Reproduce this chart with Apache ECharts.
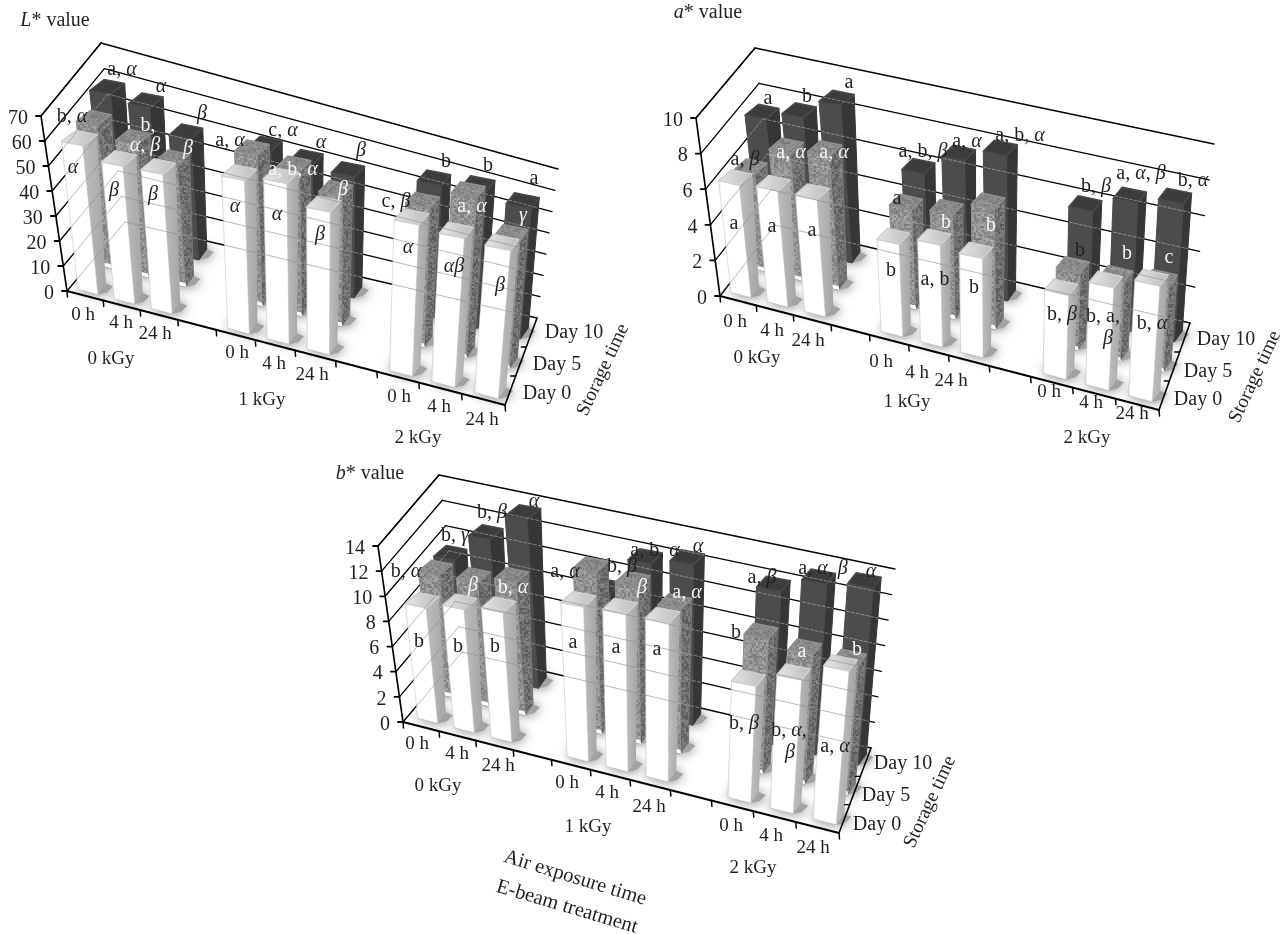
<!DOCTYPE html>
<html><head><meta charset="utf-8">
<style>html,body{margin:0;padding:0;background:#fff}#c{width:1285px;height:934px}</style>
<script src="https://cdn.jsdelivr.net/npm/echarts@6/dist/echarts.min.js"></script>
</head><body><div id="c"></div>
<script>
// ---------- data ----------
const slots = [0,1,2,4,5,6,8,9,10];
const exposureLabels = ['0 h','4 h','24 h','0 h','4 h','24 h','0 h','4 h','24 h'];
const doseLabels = ['0 kGy','1 kGy','2 kGy'];
const dayLabels = ['Day 0','Day 5','Day 10'];
const lTicks = [0,10,20,30,40,50,60,70];
const aTicks = [0,2,4,6,8,10];
const bTicks = [0,2,4,6,8,10,12,14];
const lDay0  = [59,54,54,58,60,52.6,54.5,53,52];
const lDay5  = [56.5,52,47,57,54,48,50,57,45];
const lDay10 = [58.5,56,46.7,48,46,44.5,47.6,48.6,45.7];
const aDay0  = [6.26,6.4,6.4,4.95,5.4,5.2,4.3,5.2,5.8];
const aDay5  = [5.4,7.0,7.3,5.3,5.5,6.3,3.95,4.0,4.3];
const aDay10 = [7.0,7.5,8.6,5.75,6.9,7.6,5.6,6.5,6.9];
const bDay0  = [9.1,9.6,10,11.65,11.75,11.7,8.4,9.5,10.8];
const bDay5  = [9.6,9.6,10.2,12.2,11.7,10.6,9.7,9.2,9.1];
const bDay10 = [8.7,10.9,13,8.5,11.3,11.8,11,12.1,12.4];

// ---------- layout ----------
const FONT = '"Liberation Serif", serif';
const INK = '#231f20';
const charts = [
 {name:'L*', ticks:lTicks, max:70, rows:[lDay0,lDay5,lDay10],
  A:[67,291],At:[41,116],D:[125,222],Dt:[101,43],B:[505,405],C:[537,318],Ct:[558,169],
  H0:175,grow:.143,lean:[-.115,.087],off:[2,-4],
  title:['L','* value',55,21],
  cats:[[83,315],[121,323],[155,334],[237,353],[274,364],[312,375],[399,397],[439,407],[482,420]],
  doses:[[111,359],[262,400],[418,438]],
  days:[[547,394],[557,365],[574,333]], storage:[603,370],
  notes:[['a, α',122,70,0],['b, α',72,117,0],['α',161,87,0],['b,',148,126,1],['α, β',145,146,1],['β',202,114,0],['β',188,149,1],
   ['α',73,168,0],['β',114,191,0],['β',153,195,0],['a, α',230,141,0],['c, α',283,131,0],['α',321,143,0],['a, b, α',293,170,1],
   ['α',235,207,0],['α',277,215,0],['β',320,235,0],['β',361,151,0],['β',343,190,1],['c, β',396,202,0],['b',446,162,0],['b',488,166,0],
   ['a',534,179,0],['a, α',472,207,1],['γ',523,216,1],['α',408,248,0],['αβ',454,267,0],['β',500,286,0]]},
 {name:'a*', ticks:aTicks, max:10, rows:[aDay0,aDay5,aDay10],
  A:[720,296],At:[696,118],D:[775,225],Dt:[755,48],B:[1159,410],C:[1190,323],Ct:[1214,144],
  H0:178,grow:.124,lean:[-.115,.07],off:[2,-6],
  title:['a','* value',708,13],
  cats:[[735,322],[772,331],[808,341],[881,362],[917,373],[951,381],[1049,392],[1091,403],[1132,414]],
  doses:[[757,358],[907,402],[1087,438]],
  days:[[1198,400],[1208,372],[1226,340]], storage:[1255,377],
  notes:[['a',768,99,0],['b',807,97,0],['a',849,83,0],['a, β',745,160,0],['a, α',791,153,1],['a, α',834,153,1],['a',734,224,0],['a',772,227,0],['a',812,231,0],
   ['a, b, β',923,152,0],['a, α',967,142,0],['a, b, α',1020,136,0],['a',897,199,0],['b',946,223,1],['b',991,226,1],['b',891,271,0],['a, b',935,280,0],['b',974,288,0],
   ['b, β',1096,187,0],['a, α, β',1141,174,0],['b, α',1193,181,0],['b',1080,251,0],['b',1127,254,1],['c',1169,258,1],['b, β',1062,315,0],['b, a,',1103,317,0],['β',1108,339,0],['b, α',1152,324,0]]},
 {name:'b*', ticks:bTicks, max:14, rows:[bDay0,bDay5,bDay10],
  A:[403,722],At:[378,546],D:[462,652],Dt:[439,475],B:[839,833],C:[871,748],Ct:[895,569],
  H0:176,grow:.136,lean:[-.115,.087],off:[6,-6],
  title:['b','* value',370,474],
  cats:[[417,744],[457,754],[498,766],[567,783],[607,793],[649,807],[731,826],[771,836],[813,848]],
  doses:[[438,786],[588,827],[753,868]],
  days:[[877,825],[886,796],[903,764]], storage:[930,802],
  notes:[['b, α',406,572,0],['b, γ',455,536,0],['b, β',492,513,0],['α',534,502,0],['β',473,586,1],['b, α',513,588,1],['b',419,642,0],['b',458,647,0],['b',495,647,0],
   ['a, α',565,572,0],['b, β',622,567,0],['a, b, α',655,551,0],['α',698,547,0],['β',642,588,1],['a, α',687,593,1],['a',573,643,0],['a',616,648,0],['a',657,650,0],
   ['a, β',762,578,0],['a, α, β',823,569,0],['α',871,572,0],['b',736,633,0],['a',802,652,1],['b',857,650,1],['b, β',744,724,0],['b, α,',789,731,0],['β',790,753,0],['a, α',835,747,0]]}
];
const axisCaptions = [['Air exposure time',575,878,-17],['E-beam treatment',567,907,-16.5]];
const DEPTH = [8,-11];
const DEPTH_LEAN = .045;

// ---------- textures ----------
function noise(lo,hi){
  const c=document.createElement('canvas');c.width=c.height=96;
  const g=c.getContext('2d');let s=0xACE1;
  for(let y=0;y<96;y+=2)for(let x=0;x<96;x+=2){
    for(let k=0;k<7;k++){const b=((s>>0)^(s>>2)^(s>>3)^(s>>5))&1;s=(s>>1)|(b<<15);}
    const v=Math.round(lo+(hi-lo)*(s&255)/255);
    g.fillStyle='rgb('+v+','+v+','+v+')';g.fillRect(x,y,2,2);
  }
  return {image:c,repeat:'repeat'};
}
const texFront=noise(122,168), texSide=noise(88,132), texTop=noise(122,150);
const grad=(a,b,c)=>({type:'linear',x:0,y:0,x2:1,y2:0,colorStops:c?[{offset:0,color:a},{offset:.1,color:b},{offset:1,color:c}]:[{offset:0,color:a},{offset:1,color:b}]});
const rowStyle=[
 {front:grad('#e2e2e2','#ffffff','#ffffff'),side:grad('#bdbdbd','#a6a6a6'),top:grad('#e6e6e6','#bcbcbc'),stroke:'rgba(195,195,195,.7)',topStroke:'#d0d0d0'},
 {front:texFront,side:texSide,top:texTop,stroke:'#8f8f8f',sideStroke:'#767676'},
 {front:'#4c4c4c',side:'#363636',top:'#3c3c3c',stroke:'#4a4a4a',sideStroke:'#363636'}
];
const throughBar=[
 {color:'rgba(140,140,140,.6)',dash:null},
 {color:'rgba(205,205,205,.35)',dash:[3,2]},
 {color:'rgba(190,190,190,.55)',dash:[3,2]}
];

// ---------- projection through the grid's scales ----------
function persp(t){return t*(.9+.1*t);}
function projector(ch,api){
  const g={left:ch.A[0],width:ch.B[0]-ch.A[0]};
  return function(u,r,v,d){
    const p0=api.coord([u,0]),p1=api.coord([u,v]);
    const U=persp((p0[0]-g.left)/g.width);
    const h=(p0[1]-p1[1])*(1+ch.grow*U);
    const l=ch.lean[0]+(ch.lean[1]-ch.lean[0])*U;
    return [
      ch.A[0]+(ch.B[0]-ch.A[0])*U+ch.off[0]+r*(14-3*U)+l*h+d*(DEPTH[0]+DEPTH_LEAN*(1-U)*h),
      ch.A[1]+(ch.B[1]-ch.A[1])*U+ch.off[1]-r*(26+4*U)-h+d*DEPTH[1]
    ];
  };
}
const U0=.25,U1=.8;
const poly=(pts,fill,stroke,w)=>({type:'polygon',shape:{points:pts},style:{fill:fill,stroke:stroke||null,lineWidth:w||0,lineJoin:'round'},silent:true});
const line=(a,b,color,w,extra)=>({type:'line',shape:{x1:a[0],y1:a[1],x2:b[0],y2:b[1]},style:Object.assign({stroke:color,lineWidth:w,lineCap:'round'},extra||{}),silent:true});
const lerp=(a,b,f)=>[a[0]+(b[0]-a[0])*f,a[1]+(b[1]-a[1])*f];
const rich=(size,color)=>({g:{fontStyle:'italic',fontFamily:FONT,fontSize:size,fill:color}});
function markGreek(s){return s.replace(/[αβγ]+/g,m=>'{g|'+m+'}');}

function barSeries(ch,gi,row,vals){
  const st=rowStyle[row],tb=throughBar[row];
  return {type:'custom',name:ch.name+' '+dayLabels[row],xAxisIndex:gi,yAxisIndex:gi,
    coordinateSystem:'cartesian2d',clip:false,silent:true,encode:{x:0,y:1},
    data:vals.map((v,i)=>[slots[i],v]),
    renderItem(params,api){
      const P=projector(ch,api),i=api.value(0),v=api.value(1);
      const u0=i+U0,u1=i+U1;
      const fl=P(u0,row,0,0),fr=P(u1,row,0,0),br=P(u1,row,0,1);
      const tl=P(u0,row,v,0),tr=P(u1,row,v,0),sl=P(u0,row,v,1),sr=P(u1,row,v,1);
      const kids=[
        poly([fr,tr,sr,br],st.side,st.sideStroke,1),
        poly([fl,fr,tr,tl],st.front,st.stroke,row?1:.8),
        poly([tl,tr,sr,sl],st.top,st.topStroke||st.stroke,1.5)
      ];
      // wall lines show through the bars in the reference
      const clip={type:'polygon',shape:{points:[fl,fr,br,sr,sl,tl]}};
      const ex=tb.dash?{lineDash:tb.dash}:{};
      const lines=[];
      ch.ticks.forEach(t=>{
        const f=t/ch.max;
        lines.push(line(lerp(ch.D,ch.Dt,f),lerp(ch.C,ch.Ct,f),tb.color,1,ex));
        lines.push(line(lerp(ch.A,ch.At,f),lerp(ch.D,ch.Dt,f),tb.color,1,ex));
      });
      kids.push({type:'group',clipPath:clip,children:lines});
      if(row===1){
        const d0=P(i+U1-.26,row,0,0),d1=P(i+U1+.02,row,0,0);
        const o=[-1,-4];
        kids.push(poly([d0,d1,[d1[0]+o[0],d1[1]+o[1]],[d0[0]+o[0],d0[1]+o[1]]],'#ffffff'));
      }
      return {type:'group',children:kids};
    }};
}
function shadowSeries(ch,gi){
  const data=[];
  ch.rows.forEach((vals,row)=>vals.forEach((v,i)=>data.push([slots[i],v,row])));
  return {type:'custom',name:ch.name+' floor',xAxisIndex:gi,yAxisIndex:gi,coordinateSystem:'cartesian2d',clip:false,silent:true,encode:{x:0,y:1},
    data,
    renderItem(params,api){
      const P=projector(ch,api),i=api.value(0),row=api.value(2);
      const a=P(i+U0,row,0,0),b=P(i+U1,row,0,0),c=P(i+U1,row,0,1),d=P(i+U0,row,0,1);
      const e=[b[0]+9,b[1]-2],f=[c[0]+7,c[1]+3];
      return {type:'polygon',shape:{points:[a,b,e,f,c,d]},silent:true,
        style:{fill:'#a2a2a2',shadowBlur:12,shadowColor:'rgba(90,90,90,.85)'}};
    }};
}
function frameSeries(ch,gi){
  return {type:'custom',name:ch.name+' walls',xAxisIndex:gi,yAxisIndex:gi,coordinateSystem:'cartesian2d',clip:false,silent:true,encode:{x:0,y:1},
    data:ch.ticks.map(t=>[0,t]),
    renderItem(params,api){
      const v=api.value(1),p0=api.coord([0,0]),p1=api.coord([0,v]);
      const f=(p0[1]-p1[1])/ch.H0;
      const a=lerp(ch.A,ch.At,f),b=lerp(ch.D,ch.Dt,f),c=lerp(ch.C,ch.Ct,f);
      return {type:'group',children:[line(a,b,'#000',1.3),line(b,c,'#000',1.3)]};
    }};
}
function tickSeries(ch,gi){
  return {type:'custom',name:ch.name+' axes',xAxisIndex:gi,yAxisIndex:gi,coordinateSystem:'cartesian2d',clip:false,silent:true,encode:{x:0,y:1},
    data:ch.ticks.map(t=>[0,t]),
    renderItem(params,api){
      const v=api.value(1),p0=api.coord([0,0]),p1=api.coord([0,v]);
      const f=(p0[1]-p1[1])/ch.H0;
      const a=lerp(ch.A,ch.At,f);
      return {type:'group',children:[
        line(a,[a[0]-5,a[1]],'#000',1.8),
        {type:'text',silent:true,style:{text:String(v),x:a[0]-13,y:a[1]+2.5,align:'right',verticalAlign:'middle',font:'20px '+FONT,fill:INK}}
      ]};
    }};
}
function edgeSeries(ch,gi){
  const us=[0,1,2,3,4,5,6,7,8,9,10,11];
  return {type:'custom',name:ch.name+' floor edge',xAxisIndex:gi,yAxisIndex:gi,coordinateSystem:'cartesian2d',clip:false,silent:true,encode:{x:0,y:1},
    data:us.map(u=>[u,0]),
    renderItem(params,api){
      const u=api.value(0),p=api.coord([u,0]);
      const U=persp((p[0]-ch.A[0])/(ch.B[0]-ch.A[0]));
      const q=lerp(ch.A,ch.B,U);
      const kids=[line(q,[q[0]+.5,q[1]+6],'#000',1.5)];
      if(u===0){
        kids.push(line(ch.A,ch.At,'#000',1.7),line(ch.At,ch.Dt,'#000',1.2),line(ch.A,ch.B,'#000',2),line(ch.B,ch.C,'#000',1.6));
      }
      if(u===11){
        [1/3,2/3].forEach(k=>{const m=lerp(ch.B,ch.C,k);kids.push(line(m,[m[0]-5,m[1]],'#000',1.3));});
      }
      return {type:'group',children:kids};
    }};
}

// ---------- assemble ----------
const grids=[],xAxes=[],yAxes=[],series=[],graphics=[];
const txt=(s,x,y,size,color,rot)=>({type:'text',x,y,rotation:(rot||0)*Math.PI/180,z:100,silent:true,
  style:{text:markGreek(s),x:0,y:0,align:'center',verticalAlign:'middle',font:size+'px '+FONT,fill:color,rich:rich(size,color)}});
charts.forEach((ch,gi)=>{
  grids.push({left:ch.A[0],width:ch.B[0]-ch.A[0],top:ch.A[1]-ch.H0,height:ch.H0,show:false});
  xAxes.push({type:'value',gridIndex:gi,min:0,max:11,show:false});
  yAxes.push({type:'value',gridIndex:gi,min:0,max:ch.max,interval:ch.ticks[1]-ch.ticks[0],show:false});
  series.push(frameSeries(ch,gi),shadowSeries(ch,gi));
  [2,1,0].forEach(r=>series.push(barSeries(ch,gi,r,ch.rows[r])));
  series.push(tickSeries(ch,gi),edgeSeries(ch,gi));
  ch.notes.forEach(n=>graphics.push(txt(n[0],n[1],n[2],20,n[3]?'#f4f4f4':INK)));
  ch.cats.forEach((p,i)=>graphics.push(txt(exposureLabels[i],p[0],p[1],19,INK)));
  ch.doses.forEach((p,i)=>graphics.push(txt(doseLabels[i],p[0],p[1],19,INK)));
  ch.days.forEach((p,i)=>graphics.push(txt(dayLabels[i],p[0],p[1],20,INK)));
  graphics.push(txt('Storage time',ch.storage[0],ch.storage[1],19.5,INK,65));
  graphics.push({type:'text',x:ch.title[2],y:ch.title[3],z:100,silent:true,style:{
    text:'{i|'+ch.title[0]+'}'+ch.title[1],x:0,y:0,align:'center',verticalAlign:'middle',font:'20px '+FONT,fill:INK,
    rich:{i:{fontStyle:'italic',fontFamily:FONT,fontSize:20,fill:INK}}}});
});
axisCaptions.forEach(c=>graphics.push(txt(c[0],c[1],c[2],20.5,INK,c[3])));
const chart=echarts.init(document.getElementById('c'),null,{renderer:'canvas'});
chart.setOption({animation:false,backgroundColor:'#fff',grid:grids,xAxis:xAxes,yAxis:yAxes,series,graphic:{elements:graphics}});
</script></body></html>
